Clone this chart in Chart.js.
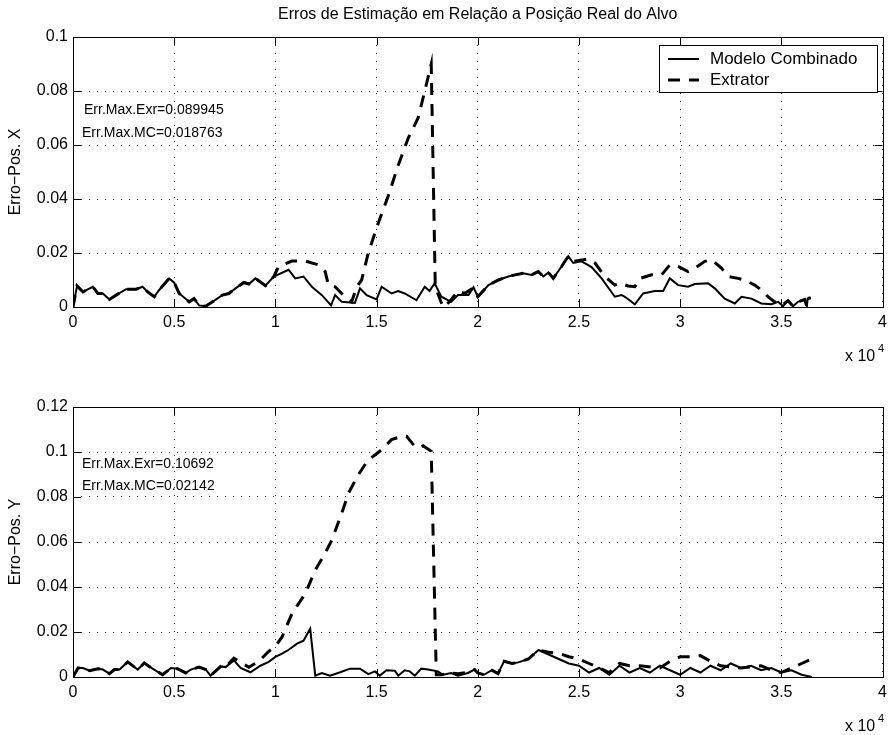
<!DOCTYPE html>
<html>
<head>
<meta charset="utf-8">
<title>Erros de Estimação</title>
<script src="https://cdn.jsdelivr.net/npm/chart.js@4.4.1/dist/chart.umd.min.js"></script>
<style>
  body { margin: 0; background: #fff; }
  #wrap { position: relative; width: 893px; height: 735px; }
  .plot { position: absolute; left: 0; width: 893px; }
</style>
</head>
<body>
<div id="wrap">
  <div class="plot" style="top:0;height:370px"><canvas id="plotX"></canvas></div>
  <div class="plot" style="top:370px;height:365px"><canvas id="plotY"></canvas></div>
</div>
<script>
// ---- data ----
const xTickLabels    = ['0', '0.5', '1', '1.5', '2', '2.5', '3', '3.5', '4'];
const xTickYLabels   = ['0', '0.02', '0.04', '0.06', '0.08', '0.1'];
const yTickYLabels   = ['0', '0.02', '0.04', '0.06', '0.08', '0.1', '0.12'];

// erro em X - modelo combinado
const errXMcT = [0,200,490,980,1230,1475,1800,2130,2620,3115,3440,3690,4015,4260,4750,5000,5250,5740,5980,6230,6560,6890,7380,7700,8030,8440,8690,9015,9510,9920,10650,10980,11390,11800,12300,12750,12950,13280,13930,14180,14510,15000,15250,15740,16070,16390,16970,17380,17620,17870,18200,18690,19020,19540,19790,20000,20530,21020,21510,21840,22250,22660,22990,23240,23490,23730,24140,24470,24720,25130,25620,26120,26770,27110,27270,27760,28170,28750,29160,29490,29900,30390,30720,31380,31710,32200,32700,33030,33520,34010,34510,34840,35080,35330,35580,35820,36150,36260,36300,36450];
const errXMc  = [0,0.0078,0.0056,0.0075,0.005,0.005,0.0028,0.0044,0.0066,0.0066,0.0075,0.0056,0.0038,0.0063,0.0106,0.009,0.005,0.0019,0.0031,0.0006,0.0003,0.0019,0.0044,0.005,0.0069,0.0091,0.0085,0.0106,0.0079,0.0113,0.0138,0.0106,0.0113,0.0075,0.0044,0.0006,0.0044,0.0019,0.0015,0.0069,0.0044,0.0028,0.0075,0.005,0.0059,0.005,0.0025,0.0075,0.0059,0.0088,0.0038,0.0019,0.0044,0.0044,0.0073,0.0038,0.0081,0.01,0.0113,0.0119,0.0125,0.0119,0.0131,0.0113,0.0128,0.0106,0.015,0.018763,0.0163,0.0169,0.0148,0.0106,0.0038,0.0044,0.0038,0.001,0.005,0.0059,0.0059,0.0106,0.0081,0.0075,0.0085,0.0088,0.0069,0.0031,0.0013,0.0038,0.0031,0.0013,0.001,0.0019,0.0003,0.0023,0.0003,0.0019,0.0028,0.0002,0.0031,0.0034];

// erro em X - extrator
const errXExT = [0,200,490,980,1230,1475,1800,2130,2620,3115,3440,3690,4015,4260,4750,5000,5250,5740,5980,6230,6560,6890,7380,7700,8030,8440,8690,9015,9510,9920,10160,10820,11480,12130,12460,12620,12950,13440,13770,14020,14260,14590,15080,15570,16070,16560,17050,17300,17700,17900,18280,18610,19020,19340,19750,20000,20530,21020,21510,21840,22250,22660,22990,23240,23490,23730,24140,24470,24720,25460,25790,26280,26770,27020,27430,27760,28010,28590,29080,29490,29900,30390,30720,31220,31550,32040,32370,32860,33190,33680,34010,34340,34670,35000,35330,35580,35820,36150,36260,36300,36450];
const errXEx  = [0,0.0078,0.0056,0.0075,0.005,0.005,0.0028,0.0044,0.0066,0.0066,0.0075,0.0056,0.0038,0.0063,0.0106,0.009,0.005,0.0019,0.0031,0.0006,0.0003,0.0019,0.0044,0.005,0.0069,0.0091,0.0085,0.0106,0.0079,0.0113,0.015,0.017,0.017,0.0156,0.0131,0.0081,0.0075,0.0038,0.0019,0.0075,0.01,0.02,0.031,0.041,0.0525,0.0625,0.07,0.0775,0.089945,0.0075,0,0.002,0.006,0.005,0.0069,0.0038,0.0081,0.01,0.0113,0.0119,0.0125,0.0119,0.0131,0.0113,0.0128,0.0106,0.015,0.018763,0.0169,0.0178,0.0163,0.0113,0.0081,0.0088,0.0078,0.0075,0.0106,0.0119,0.0119,0.0156,0.015,0.0131,0.0144,0.0169,0.0175,0.0144,0.0113,0.0106,0.01,0.0081,0.0063,0.0038,0.0019,0.0006,0.0023,0.0003,0.0019,0.0028,0.0002,0.0031,0.0034];

// erro em Y - modelo combinado
const errYMcT = [0,250,490,820,1230,1475,1800,2050,2300,2700,3200,3520,3930,4430,4840,5160,5570,5820,6230,6560,6800,7300,7540,7950,8280,8770,9260,9670,10000,10330,10660,11070,11390,11720,11970,12300,12700,13200,13690,14180,14590,14920,15160,15490,15900,16070,16390,16640,16890,17210,17540,18030,18280,18690,19020,19510,19840,20000,20300,20700,21000,21300,21700,22000,22500,23000,23500,24000,24500,25000,25500,26000,26500,27000,27500,28000,28500,29000,29500,30000,30500,31000,31500,32000,32500,33000,33500,34000,34500,35000,35500,36000,36500];
const errYMc  = [0,0.004,0.004,0.0028,0.0037,0.0033,0.0015,0.0033,0.0033,0.0067,0.0033,0.0062,0.0037,0.001,0.004,0.0037,0.0018,0.0033,0.0044,0.0033,0.0006,0.0047,0.0044,0.0074,0.004,0.0021,0.005,0.0067,0.0089,0.0104,0.0121,0.0148,0.0161,0.02142,0.0006,0.0018,0.0006,0.0021,0.0037,0.0037,0.0013,0.0025,0.0006,0.003,0.0028,0.0006,0.003,0.0025,0.0006,0.0037,0.0033,0.0025,0.001,0.0018,0.0006,0.0018,0.0033,0.0018,0.001,0.003,0.0015,0.007,0.006,0.0065,0.008,0.012,0.01,0.008,0.006,0.005,0.002,0.004,0.001,0.005,0.002,0.004,0.002,0.005,0.003,0.001,0.004,0.002,0.005,0.003,0.006,0.004,0.005,0.003,0.004,0.002,0.003,0.001,0];

// erro em Y - extrator
const errYExT = [0,250,490,820,1230,1475,1800,2050,2300,2700,3200,3520,3930,4430,4840,5160,5570,5820,6230,6560,6800,7300,7540,7950,8200,8690,9180,9670,10000,10330,10820,11480,11970,12460,12790,13280,13610,14100,14590,14840,15250,15740,16230,16480,16890,17130,17300,17700,17950,18200,18690,19020,19510,19840,20000,20300,20700,21000,21300,21700,22000,22500,23000,23500,24000,24500,25000,25500,26000,26500,27000,27500,28000,29000,29500,30000,30500,31000,31500,32000,33000,34000,34500,35000,35500,36000,36500];
const errYEx  = [0,0.004,0.004,0.0028,0.0037,0.0033,0.0015,0.0033,0.0033,0.0067,0.0033,0.0062,0.0037,0.001,0.004,0.0037,0.0018,0.0033,0.0044,0.0033,0.0006,0.0047,0.0044,0.0084,0.007,0.0043,0.007,0.0114,0.0136,0.0178,0.0282,0.0371,0.0475,0.055,0.0609,0.0728,0.0817,0.0899,0.0966,0.0981,0.101,0.1055,0.10692,0.107,0.1025,0.1018,0.1028,0.1003,0.001,0.001,0.0018,0.0015,0.002,0.0033,0.0018,0.001,0.003,0.0015,0.007,0.006,0.0065,0.008,0.012,0.011,0.0105,0.009,0.008,0.006,0.004,0.002,0.006,0.005,0.005,0.004,0.007,0.009,0.009,0.0095,0.007,0.005,0.004,0.005,0.003,0.002,0.004,0.006,0.008];

const FONT = '"Liberation Sans", Arial, Helvetica, sans-serif';

function toPoints(xs, ys) {
  return xs.map((x, i) => ({ x: x, y: ys[i] }));
}

// box, inward ticks, legend and free text drawn straight on the canvas
const framePlugin = {
  id: 'frame',
  afterDatasetsDraw(chart, args, opts) {
    const ctx = chart.ctx;
    const a = chart.chartArea;
    const sx = chart.scales.x, sy = chart.scales.y;
    const tl = 8;
    ctx.save();
    ctx.strokeStyle = '#000';
    ctx.lineWidth = 1;
    ctx.beginPath();
    sx.ticks.forEach(t => {
      const px = Math.round(sx.getPixelForValue(t.value)) + 0.5;
      ctx.moveTo(px, a.bottom); ctx.lineTo(px, a.bottom - tl);
      ctx.moveTo(px, a.top);    ctx.lineTo(px, a.top + tl);
    });
    sy.ticks.forEach(t => {
      const py = Math.round(sy.getPixelForValue(t.value)) + 0.5;
      ctx.moveTo(a.left, py);  ctx.lineTo(a.left + tl, py);
      ctx.moveTo(a.right, py); ctx.lineTo(a.right - tl, py);
    });
    ctx.stroke();
    ctx.strokeRect(Math.round(a.left) + 0.5, Math.round(a.top) + 0.5,
                   Math.round(a.right - a.left), Math.round(a.bottom - a.top));
    ctx.restore();
  },
  afterDraw(chart, args, opts) {
    const ctx = chart.ctx;
    const a = chart.chartArea;
    ctx.save();
    ctx.fillStyle = '#000';
    ctx.textBaseline = 'alphabetic';

    if (opts.title) {
      ctx.font = '16px ' + FONT;
      ctx.textAlign = 'center';
      ctx.fillText(opts.title, (a.left + a.right) / 2, 19);
    }

    ctx.textAlign = 'left';
    ctx.font = '14px ' + FONT;
    (opts.notes || []).forEach(n => ctx.fillText(n.text, n.x, n.y));

    // exponent of the x axis
    ctx.font = '16px ' + FONT;
    ctx.fillText('x 10', 845, a.bottom + 54);
    ctx.font = '11px ' + FONT;
    ctx.fillText('4', 878, a.bottom + 45);

    if (opts.legend) {
      const bx = 659, by = 45, bw = 218, bh = 47;
      ctx.fillStyle = '#fff';
      ctx.fillRect(bx, by, bw, bh);
      ctx.strokeStyle = '#000';
      ctx.lineWidth = 1;
      ctx.strokeRect(bx + 0.5, by + 0.5, bw, bh);
      chart.data.datasets.forEach((ds, i) => {
        const ly = by + 14 + i * 21;
        ctx.beginPath();
        ctx.lineWidth = ds.borderWidth;
        ctx.setLineDash(ds.borderDash || []);
        ctx.moveTo(668, ly); ctx.lineTo(699, ly);
        ctx.stroke();
        ctx.setLineDash([]);
        ctx.fillStyle = '#000';
        ctx.font = '17px ' + FONT;
        ctx.textBaseline = 'middle';
        ctx.fillText(ds.label, 710, ly);
      });
    }
    ctx.restore();
  }
};

function makePlot(canvasId, cfg) {
  return new Chart(document.getElementById(canvasId), {
    type: 'line',
    data: {
      datasets: [
        { label: 'Modelo Combinado', data: toPoints(cfg.mcT, cfg.mc),
          borderColor: '#000', borderWidth: 2, pointRadius: 0, tension: 0, fill: false },
        { label: 'Extrator', data: toPoints(cfg.exT, cfg.ex),
          borderColor: '#000', borderWidth: 3, borderDash: [12, 9], pointRadius: 0, tension: 0, fill: false }
      ]
    },
    options: {
      responsive: true,
      maintainAspectRatio: false,
      animation: false,
      events: [],
      layout: { padding: { top: 37, right: 9, left: 0, bottom: 0 } },
      plugins: {
        legend: { display: false },
        tooltip: { enabled: false },
        frame: { title: cfg.title, notes: cfg.notes, legend: cfg.legend }
      },
      scales: {
        x: {
          type: 'linear', min: 0, max: 40000,
          ticks: {
            stepSize: 5000, autoSkip: false, maxRotation: 0, padding: 6,
            color: '#000', font: { family: FONT, size: 16 },
            callback: (v, i) => xTickLabels[i]
          },
          grid: { color: 'rgba(0,0,0,0.8)', lineWidth: 1, drawTicks: false },
          border: { display: false, dash: [1, 7] },
          afterFit: s => { s.height = cfg.height - 307; }
        },
        y: {
          min: 0, max: cfg.yMax,
          ticks: {
            stepSize: 0.02, autoSkip: false, padding: 5,
            color: '#000', font: { family: FONT, size: 16 },
            callback: (v, i) => cfg.yLabels[i]
          },
          title: {
            display: true, text: cfg.yTitle, color: '#000',
            font: { family: FONT, size: 16 }, padding: { top: 6, bottom: 0 }
          },
          grid: { color: 'rgba(0,0,0,0.8)', lineWidth: 1, drawTicks: false },
          border: { display: false, dash: [1, 7] },
          afterFit: s => { s.width = 73; }
        }
      }
    },
    plugins: [framePlugin]
  });
}

makePlot('plotX', {
  height: 370, yMax: 0.1, yLabels: xTickYLabels, yTitle: 'Erro\u2212Pos. X',
  mcT: errXMcT, mc: errXMc, exT: errXExT, ex: errXEx,
  title: 'Erros de Estimação em Relação a Posição Real do Alvo',
  legend: true,
  notes: [
    { text: 'Err.Max.Exr=0.089945', x: 84, y: 114 },
    { text: 'Err.Max.MC=0.018763', x: 82, y: 137 }
  ]
});

makePlot('plotY', {
  height: 365, yMax: 0.12, yLabels: yTickYLabels, yTitle: 'Erro\u2212Pos. Y',
  mcT: errYMcT, mc: errYMc, exT: errYExT, ex: errYEx,
  legend: false,
  notes: [
    { text: 'Err.Max.Exr=0.10692', x: 82, y: 98 },
    { text: 'Err.Max.MC=0.02142', x: 82, y: 120 }
  ]
});
</script>
</body>
</html>
